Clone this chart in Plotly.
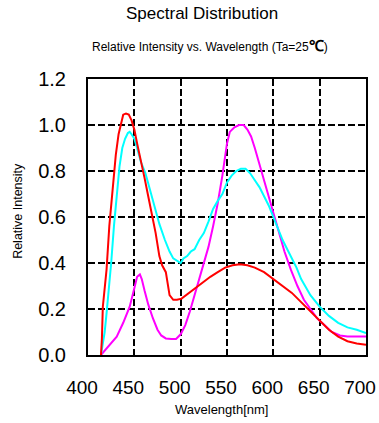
import plotly.graph_objects as go

# Spectral curves: wavelength (nm) and relative intensity for each emitter
red_wl = [414, 415, 416, 418, 420, 423, 425, 427, 430, 433, 436, 438, 441, 444, 447,
          450, 453, 457, 461, 465, 469, 473, 477, 480, 484, 486, 488, 492, 496, 501,
          506, 512, 518, 525, 532, 540, 548, 556, 564, 572, 580, 590, 600, 610, 620,
          630, 640, 650, 660, 670, 680, 690, 700]
red_int = [0.0, 0.07, 0.21, 0.30, 0.37, 0.56, 0.65, 0.75, 0.87, 0.96, 1.02, 1.045, 1.05,
           1.045, 1.02, 0.98, 0.92, 0.85, 0.77, 0.69, 0.61, 0.53, 0.43, 0.39, 0.36,
           0.30, 0.26, 0.24, 0.24, 0.245, 0.26, 0.28, 0.30, 0.32, 0.34, 0.36, 0.38,
           0.39, 0.395, 0.39, 0.38, 0.36, 0.33, 0.30, 0.27, 0.23, 0.19, 0.15, 0.11,
           0.08, 0.06, 0.05, 0.045]

cyan_wl = [414, 416, 418, 420, 422, 425, 428, 431, 434, 437, 440, 443, 445, 447, 450,
           453, 457, 462, 467, 472, 477, 483, 488, 492, 496, 500, 503, 507, 511, 515,
           520, 525, 530, 535, 540, 545, 550, 555, 560, 565, 570, 575, 580, 585, 590,
           595, 600, 605, 610, 615, 620, 625, 630, 640, 650, 660, 670, 680, 690, 700]
cyan_int = [0.0, 0.05, 0.10, 0.18, 0.26, 0.40, 0.56, 0.70, 0.82, 0.90, 0.94, 0.965, 0.97,
            0.96, 0.94, 0.90, 0.84, 0.79, 0.72, 0.64, 0.57, 0.50, 0.45, 0.42, 0.41,
            0.40, 0.42, 0.43, 0.45, 0.46, 0.50, 0.53, 0.58, 0.635, 0.67, 0.70, 0.75,
            0.78, 0.80, 0.81, 0.81, 0.79, 0.76, 0.73, 0.69, 0.65, 0.60, 0.55, 0.50,
            0.46, 0.42, 0.38, 0.33, 0.26, 0.21, 0.17, 0.14, 0.12, 0.11, 0.095]

mag_wl = [414, 422, 431, 438, 445, 450, 453, 456, 458, 461, 465, 470, 475, 479, 484,
          490, 495, 500, 505, 510, 515, 520, 525, 530, 535, 540, 545, 550, 553, 558,
          563, 568, 572, 576, 580, 585, 590, 597, 605, 612, 619, 626, 633, 640, 647,
          655, 663, 672, 680, 690, 700]
mag_int = [0.0, 0.04, 0.08, 0.14, 0.21, 0.29, 0.34, 0.35, 0.33, 0.28, 0.22, 0.16, 0.11,
           0.085, 0.072, 0.07, 0.07, 0.09, 0.13, 0.19, 0.26, 0.33, 0.40, 0.47, 0.56,
           0.66, 0.78, 0.92, 0.97, 0.99, 1.0, 1.0, 0.98, 0.95, 0.90, 0.83, 0.76, 0.66,
           0.55, 0.45, 0.37, 0.30, 0.24, 0.20, 0.16, 0.13, 0.10, 0.085, 0.08, 0.08, 0.08]

x_ticks = [400, 450, 500, 550, 600, 650, 700]
x_labels = ["400", "450", "500", "550", "600", "650", "700"]
y_ticks = [0.0, 0.2, 0.4, 0.6, 0.8, 1.0, 1.2]
y_labels = ["0.0", "0.2", "0.4", "0.6", "0.8", "1.0", "1.2"]

FONT = "Liberation Sans, Arial, sans-serif"

fig = go.Figure()
for wl, vals, col in [(mag_wl, mag_int, "#FF00FF"),
                      (cyan_wl, cyan_int, "#00FFFF"),
                      (red_wl, red_int, "#FF0000")]:
    fig.add_trace(go.Scatter(x=wl, y=vals, mode="lines",
                             line=dict(color=col, width=2), showlegend=False))

axis_common = dict(showline=True, linecolor="black", linewidth=2, mirror=True,
                   showgrid=True, gridcolor="black", gridwidth=2, griddash="7px,3px",
                   zeroline=False, ticks="", ticklabeloverflow="allow", automargin=False)

fig.update_xaxes(range=[400, 700], tickvals=x_ticks, ticktext=x_labels,
                 ticklabelstandoff=14, ticklabelshift=-6,
                 tickfont=dict(family=FONT, size=19, color="black"), **axis_common)
fig.update_yaxes(range=[0, 1.2], tickvals=y_ticks, ticktext=y_labels,
                 ticklabelstandoff=16,
                 tickfont=dict(family=FONT, size=20, color="black"), **axis_common)


def label(text, x, y, size, angle=0):
    return dict(text=text, x=x, y=y, xref="paper", yref="paper",
                xanchor="center", yanchor="middle", textangle=angle,
                showarrow=False, font=dict(family=FONT, size=size, color="black"))


fig.update_layout(
    width=379, height=423,
    margin=dict(l=88, r=13, t=79, b=68, autoexpand=False),
    paper_bgcolor="white", plot_bgcolor="white",
    annotations=[
        label("Spectral Distribution", 0.41, 1.239, 17),
        label("Relative Intensity vs. Wavelength (Ta=25<b><span style='font-size:15px'>℃</span></b>)",
              0.44, 1.123, 12),
        label("Relative Intensity", -0.252, 0.522, 12.5, angle=-90),
        label("Wavelength[nm]", 0.482, -0.199, 13),
    ],
)

fig.write_html("out.html")
